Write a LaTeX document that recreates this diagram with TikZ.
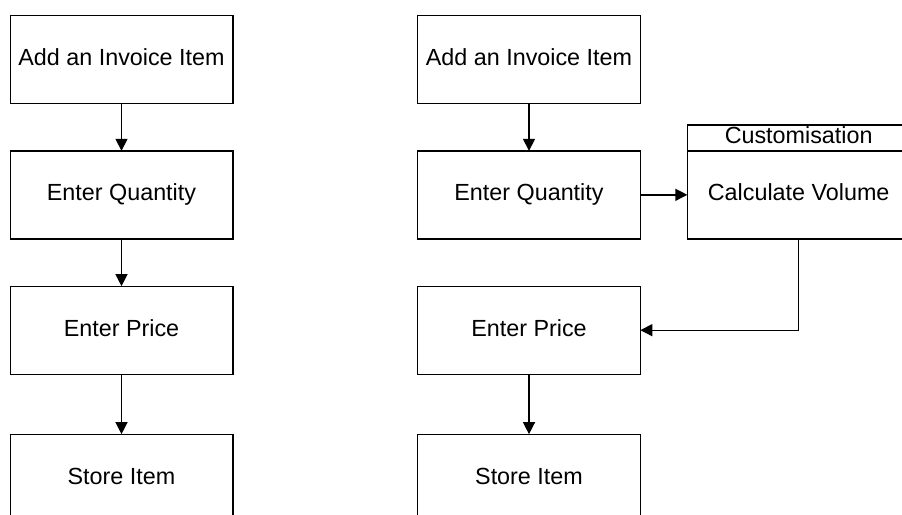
\documentclass[tikz,border=0pt]{standalone}
\usepackage{fontspec}
\setmainfont{Liberation Sans}
\usetikzlibrary{positioning,arrows.meta}

\begin{document}
\begin{tikzpicture}[x=0.75pt, y=-0.75pt, node distance=35.5pt, align=center]
	% Node styles
	\tikzstyle{process} = [rectangle, draw, line width=1pt, outer sep=0pt, minimum width=167pt, minimum height=66pt, text height=13pt, text depth=4pt, font=\fontsize{17.5}{20}\selectfont]
	\tikzstyle{header} = [rectangle, draw, line width=1pt, outer sep=0pt, inner sep=0pt, minimum width=167pt, minimum height=19.5pt, text height=13pt, text depth=4pt, font=\fontsize{17.5}{20}\selectfont]
	\tikzstyle{arrow} = [line width=1pt,->,>={Triangle[width=9pt,length=9pt]}]

	% Frame
	\clip (0,0) rectangle (902,514);
	\fill[white] (0,0) rectangle (902,514);

	% Nodes, standard flow
	\node[process] (addItemA) at (121.5,59.5) {Add an Invoice Item};
	\node[process, below=of addItemA] (enterQuantityA) {Enter Quantity};
	\node[process, below=of enterQuantityA] (enterPriceA) {Enter Price};
	\node[process, below=45pt of enterPriceA] (storeItemA) {Store Item};

	% Nodes, customised flow
	\node[process] (addItemB) at (529,59.5) {Add an Invoice Item};
	\node[process, below=of addItemB] (enterQuantityB) {Enter Quantity};
	\node[process, below=of enterQuantityB] (enterPriceB) {Enter Price};
	\node[process, below=45pt of enterPriceB] (storeItemB) {Store Item};
	\node[process, right=35.25pt of enterQuantityB] (calcVolume) {Calculate Volume};
	\node[header, above=0pt of calcVolume] (customisation) {Customisation};

	% Arrows
	\draw[arrow] (addItemA) -- (enterQuantityA);
	\draw[arrow] (enterQuantityA) -- (enterPriceA);
	\draw[arrow] (enterPriceA) -- (storeItemA);

	\draw[arrow] (addItemB) -- (enterQuantityB);
	\draw[arrow] (enterQuantityB) -- (calcVolume);
	\draw[arrow] (calcVolume.south) |- (enterPriceB);
	\draw[arrow] (enterPriceB) -- (storeItemB);
\end{tikzpicture}
\end{document}
